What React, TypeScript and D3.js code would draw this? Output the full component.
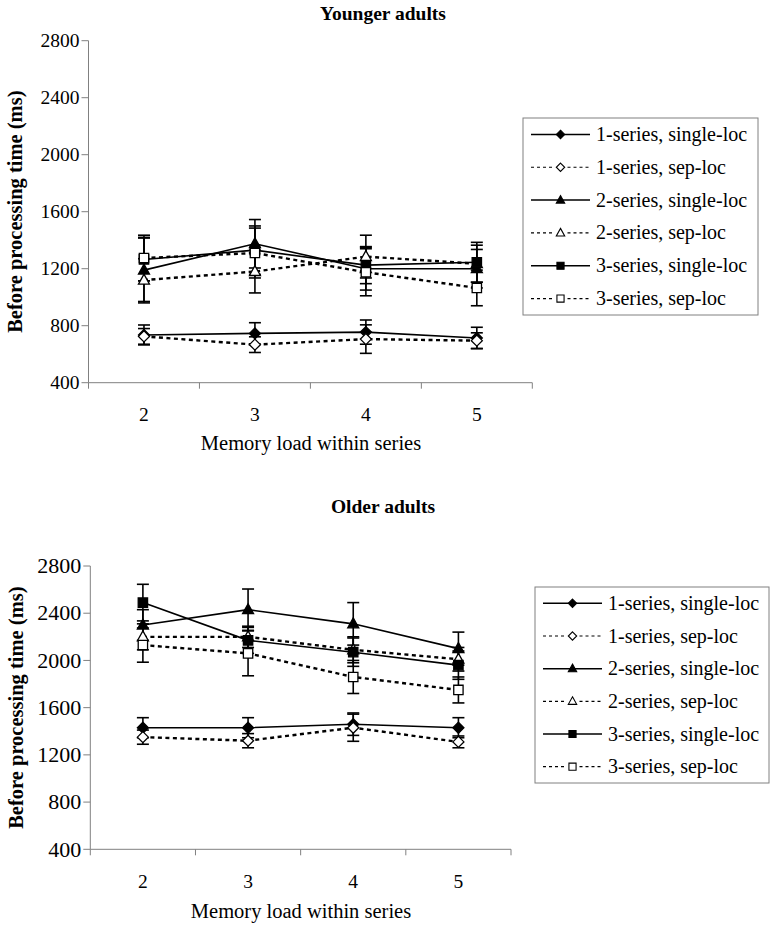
import React from "react";
import * as d3 from "d3";

const categories = ["2", "3", "4", "5"];
const yTicks = [400, 800, 1200, 1600, 2000, 2400, 2800];
const seriesNames = [
  "1-series, single-loc",
  "1-series, sep-loc",
  "2-series, single-loc",
  "2-series, sep-loc",
  "3-series, single-loc",
  "3-series, sep-loc",
];
const seriesShapes = ["diamond", "diamond", "triangle", "triangle", "square", "square"];
const seriesFilled = [true, false, true, false, true, false];
const seriesDashed = [false, true, false, true, false, true];

// Younger adults
const young1Single = [735, 746, 755, 714];
const young1Sep = [725, 667, 706, 695];
const young2Single = [1190, 1375, 1200, 1200];
const young2Sep = [1120, 1180, 1285, 1235];
const young3Single = [1265, 1330, 1225, 1245];
const young3Sep = [1275, 1310, 1175, 1065];
const youngErr1Single = [70, 75, 85, 75];
const youngErr1Sep = [55, 55, 100, 55];
const youngErr2Single = [230, 170, 150, 135];
const youngErr2Sep = [150, 150, 150, 130];
const youngErr3Single = [150, 170, 130, 140];
const youngErr3Sep = [160, 175, 165, 125];

// Older adults
const old1Single = [1430, 1430, 1460, 1430];
const old1Sep = [1350, 1320, 1430, 1310];
const old2Single = [2300, 2430, 2310, 2100];
const old2Sep = [2200, 2200, 2090, 2010];
const old3Single = [2490, 2170, 2070, 1960];
const old3Sep = [2130, 2060, 1860, 1750];
const oldErr1Single = [85, 85, 95, 85];
const oldErr1Sep = [60, 60, 115, 50];
const oldErr2Single = [130, 175, 180, 140];
const oldErr2Sep = [110, 90, 110, 100];
const oldErr3Single = [155, 110, 120, 120];
const oldErr3Sep = [145, 190, 140, 110];

const youngValues = [young1Single, young1Sep, young2Single, young2Sep, young3Single, young3Sep];
const youngErrors = [youngErr1Single, youngErr1Sep, youngErr2Single, youngErr2Sep, youngErr3Single, youngErr3Sep];
const oldValues = [old1Single, old1Sep, old2Single, old2Sep, old3Single, old3Sep];
const oldErrors = [oldErr1Single, oldErr1Sep, oldErr2Single, oldErr2Sep, oldErr3Single, oldErr3Sep];

const FONT = "Liberation Serif";
const AXIS = "#808080";

function markerPath(shape: string, s: number): string {
  if (shape === "diamond") {
    return `M0,${-s}L${s},0L0,${s}L${-s},0Z`;
  }
  if (shape === "triangle") {
    const h = s * 1.8;
    return `M0,${-h * 0.6}L${s},${h * 0.4}L${-s},${h * 0.4}Z`;
  }
  const q = s * 0.85;
  return `M${-q},${-q}H${q}V${q}H${-q}Z`;
}

type PanelProps = {
  title: string;
  titleY: number;
  x0: number;
  x1: number;
  yTop: number;
  yBottom: number;
  values: number[][];
  errors: number[][];
  tickFont: number;
  xTickY: number;
  xLabelX: number;
  xLabelY: number;
  yLabelX: number;
  legendX: number;
  legendY: number;
  legendW: number;
  legendH: number;
};

function T(props: any) {
  const { size, weight, children, ...rest } = props;
  return (
    <text
      {...rest}
      fontFamily={FONT}
      fontSize={size}
      fontWeight={weight || "normal"}
      style={{ fontFamily: FONT }}
    >
      {children}
    </text>
  );
}

function Panel(p: PanelProps) {
  const x = d3.scaleBand<string>().domain(categories).range([p.x0, p.x1]).paddingInner(0).paddingOuter(0);
  const y = d3.scaleLinear().domain([400, 2800]).range([p.yBottom, p.yTop]);
  const cx = (c: string) => (x(c) as number) + x.bandwidth() / 2;
  const line = d3
    .line<number>()
    .x((_, i) => cx(categories[i]))
    .y((v) => y(v));
  const edges = [...categories.map((c) => x(c) as number), p.x1];
  const rowH = p.legendH / 6;

  return (
    <g fontFamily={FONT}>
      <T x={383} y={p.titleY + 6.5} textAnchor="middle" weight="bold" size={19.5}>
        {p.title}
      </T>
      <line x1={p.x0} x2={p.x0} y1={p.yTop} y2={p.yBottom} stroke={AXIS} strokeWidth={1} />
      <line x1={p.x0} x2={p.x1} y1={p.yBottom} y2={p.yBottom} stroke={AXIS} strokeWidth={1} />
      {yTicks.map((t) => (
        <g key={t}>
          <line x1={p.x0 - 7} x2={p.x0} y1={y(t)} y2={y(t)} stroke={AXIS} strokeWidth={1} />
          <T x={p.x0 - 9} y={y(t) + p.tickFont * 0.33} textAnchor="end" size={p.tickFont}>
            {t}
          </T>
        </g>
      ))}
      {edges.map((e, i) => (
        <line key={i} x1={e} x2={e} y1={p.yBottom} y2={p.yBottom + 6} stroke={AXIS} strokeWidth={1} />
      ))}
      {categories.map((c) => (
        <T key={c} x={cx(c)} y={p.xTickY + 6.5} textAnchor="middle" size={19.5}>
          {c}
        </T>
      ))}
      <T x={p.xLabelX} y={p.xLabelY + 6.5} textAnchor="middle" size={20.5}>
        Memory load within series
      </T>
      <T
        transform={`translate(${p.yLabelX + 7},${(p.yTop + p.yBottom) / 2}) rotate(-90)`}
        textAnchor="middle"
        weight="bold"
        size={20.5}
      >
        Before processing time (ms)
      </T>
      {p.values.map((vals, si) => (
        <path
          key={"l" + si}
          d={line(vals) || ""}
          fill="none"
          stroke="#000"
          strokeWidth={seriesDashed[si] ? 2.4 : 1.6}
          strokeDasharray={seriesDashed[si] ? "4,3.5" : undefined}
        />
      ))}
      {p.values.map((vals, si) =>
        vals.map((v, i) => {
          const e = p.errors[si][i];
          const xx = cx(categories[i]);
          return (
            <g key={"e" + si + "-" + i} stroke="#000" strokeWidth={1.6}>
              <line x1={xx} x2={xx} y1={y(v + e)} y2={y(v - e)} />
              <line x1={xx - 6} x2={xx + 6} y1={y(v + e)} y2={y(v + e)} />
              <line x1={xx - 6} x2={xx + 6} y1={y(v - e)} y2={y(v - e)} />
            </g>
          );
        })
      )}
      {p.values.map((vals, si) =>
        vals.map((v, i) => (
          <path
            key={"m" + si + "-" + i}
            d={markerPath(seriesShapes[si], 5.5)}
            transform={`translate(${cx(categories[i])},${y(v)})`}
            fill={seriesFilled[si] ? "#000" : "#fff"}
            stroke="#000"
            strokeWidth={1.3}
          />
        ))
      )}
      <rect x={p.legendX} y={p.legendY} width={p.legendW} height={p.legendH} fill="#fff" stroke={AXIS} strokeWidth={1} />
      {seriesNames.map((name, si) => {
        const ry = p.legendY + rowH * (si + 0.5);
        const lx0 = p.legendX + 8;
        const lx1 = p.legendX + 67;
        const mx = (lx0 + lx1) / 2;
        return (
          <g key={"lg" + si}>
            {seriesDashed[si] ? (
              <>
                <line x1={lx0} x2={mx - 7} y1={ry} y2={ry} stroke="#000" strokeWidth={1.2} strokeDasharray="3,3" />
                <line x1={mx + 7} x2={lx1} y1={ry} y2={ry} stroke="#000" strokeWidth={1.2} strokeDasharray="3,3" />
              </>
            ) : (
              <line x1={lx0} x2={lx1} y1={ry} y2={ry} stroke="#000" strokeWidth={1.5} />
            )}
            <path
              d={markerPath(seriesShapes[si], 4.2)}
              transform={`translate(${mx},${ry})`}
              fill={seriesFilled[si] ? "#000" : "#fff"}
              stroke="#000"
              strokeWidth={1.1}
            />
            <T x={lx1 + 6} y={ry + 6.5} size={20}>
              {name}
            </T>
          </g>
        );
      })}
    </g>
  );
}

export default function App() {
  return (
    <svg
      width={778}
      height={928}
      fontFamily={FONT}
      style={{ position: "absolute", left: 0, top: 0, background: "#fff", fontFamily: FONT }}
    >
      <rect x={0} y={0} width={778} height={928} fill="#fff" />
      <Panel
        title="Younger adults"
        titleY={13}
        x0={88.5}
        x1={532.3}
        yTop={40.7}
        yBottom={382.7}
        values={youngValues}
        errors={youngErrors}
        tickFont={19.5}
        xTickY={414}
        xLabelX={311}
        xLabelY={443}
        yLabelX={15}
        legendX={523}
        legendY={118}
        legendW={235}
        legendH={197}
      />
      <Panel
        title="Older adults"
        titleY={506}
        x0={90.3}
        x1={511}
        yTop={566}
        yBottom={849.3}
        values={oldValues}
        errors={oldErrors}
        tickFont={22}
        xTickY={881}
        xLabelX={301}
        xLabelY={911}
        yLabelX={16}
        legendX={535}
        legendY={587}
        legendW={234}
        legendH={196}
      />
    </svg>
  );
}
